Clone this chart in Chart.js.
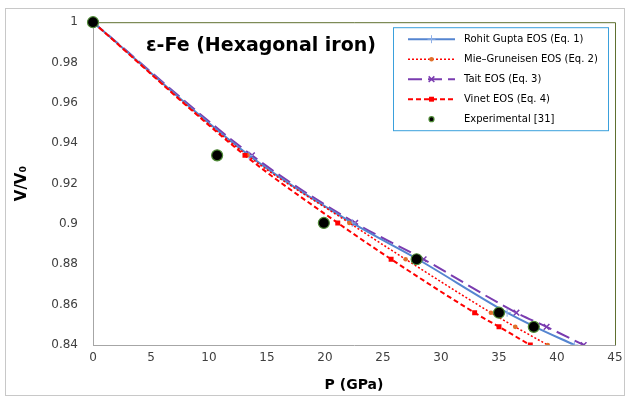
<!DOCTYPE html>
<html>
<head>
<meta charset="utf-8">
<script src="https://cdn.jsdelivr.net/npm/chart.js@4"></script>
<style>
html,body{margin:0;padding:0;background:#fff;}
#wrap{width:630px;height:399px;}
</style>
</head>
<body>
<div id="wrap"><canvas id="chartEos" width="630" height="399"></canvas></div>
<script>
// ---- data ----
const vLevels = [1, 0.934, 0.9005, 0.8825, 0.856, 0.849, 0.84];
const pRohit  = [0, 13.45, 22.35, 28.0, 35.7, 38.1, 41.5];
const pMie    = [0, 13.3, 22.1, 26.95, 34.3, 36.4, 39.2];
const pTait   = [0, 13.7, 22.6, 28.5, 36.5, 39.1, 42.3];
const pVinet  = [0, 13.1, 21.1, 25.7, 32.9, 35.0, 37.7];

const pExp = [0, 10.7, 19.9, 27.9, 35.0, 38.0];
const vExp = [1, 0.934, 0.9005, 0.8825, 0.856, 0.849];

const xTicks = [0, 5, 10, 15, 20, 25, 30, 35, 40, 45];
const yTicks = [0.84, 0.86, 0.88, 0.9, 0.92, 0.94, 0.96, 0.98, 1];
const yTickLabels = ["0.84", "0.86", "0.88", "0.9", "0.92", "0.94", "0.96", "0.98", "1"];

const seriesNames = [
  "Rohit Gupta EOS (Eq. 1)",
  "Mie\u2013Gruneisen EOS (Eq. 2)",
  "Tait EOS (Eq. 3)",
  "Vinet EOS (Eq. 4)",
  "Experimental [31]"
];

function pts(px, vy) {
  return px.map((p, i) => ({x: p, y: vy[i]}));
}

const FONT = "'DejaVu Sans', Verdana, sans-serif";

// legend drawn inside plot, line + marker like the original
const boxLegend = {
  id: "boxLegend",
  afterDraw(chart) {
    const ctx = chart.ctx;
    const ca = chart.chartArea;
    const x0 = ca.right - 222, y0 = ca.top + 5, w = 215, h = 103;
    ctx.save();
    ctx.fillStyle = "#fff";
    ctx.fillRect(x0, y0, w, h);
    ctx.strokeStyle = "#3aa0dc";
    ctx.lineWidth = 1;
    ctx.strokeRect(x0 + 0.5, y0 + 0.5, w, h);
    ctx.font = "10px " + FONT;
    ctx.textBaseline = "middle";
    chart.data.datasets.forEach((ds, row) => {
      const yy = y0 + 12 + row * 20;
      const lx1 = x0 + 15, lx2 = x0 + 62;
      if (ds.showLine !== false) {
        ctx.beginPath();
        ctx.setLineDash(ds.borderDash || []);
        ctx.strokeStyle = ds.borderColor;
        ctx.lineWidth = ds.borderWidth;
        ctx.moveTo(lx1, yy);
        ctx.lineTo(lx2, yy);
        ctx.stroke();
        ctx.setLineDash([]);
      }
      ctx.fillStyle = ds.pointBackgroundColor;
      ctx.strokeStyle = ds.pointBorderColor;
      ctx.lineWidth = ds.pointBorderWidth;
      Chart.helpers.drawPoint(ctx, {
        pointStyle: ds.pointStyle,
        radius: row === 4 ? 2.5 : ds.pointRadius,
        borderWidth: ds.pointBorderWidth
      }, (lx1 + lx2) / 2, yy);
      ctx.fillStyle = "#000";
      ctx.fillText(seriesNames[row], x0 + 71, yy);
    });
    ctx.restore();
  }
};

// frame, top/right border and the in-plot title
const frame = {
  id: "frame",
  beforeDraw(chart) {
    const ctx = chart.ctx;
    ctx.save();
    ctx.strokeStyle = "#c8c8c8";
    ctx.lineWidth = 1;
    ctx.strokeRect(5.5, 8.5, 619, 387);
    ctx.restore();
  },
  beforeDatasetsDraw(chart) {
    const ctx = chart.ctx;
    const ca = chart.chartArea;
    ctx.save();
    ctx.strokeStyle = "#5f7030";
    ctx.lineWidth = 1;
    ctx.beginPath();
    ctx.moveTo(ca.left, ca.top + 0.5);
    ctx.lineTo(ca.right + 0.5, ca.top + 0.5);
    ctx.lineTo(ca.right + 0.5, ca.bottom);
    ctx.stroke();
    ctx.fillStyle = "#000";
    ctx.font = "bold 19px " + FONT;
    ctx.textBaseline = "middle";
    ctx.fillText("\u03b5-Fe (Hexagonal iron)", ca.left + 53, ca.top + 24);
    ctx.restore();
  }
};

new Chart(document.getElementById("chartEos"), {
  type: "scatter",
  data: {
    datasets: [
      {
        label: seriesNames[0],
        data: pts(pRohit, vLevels),
        showLine: true,
        borderColor: "#5585d0",
        borderWidth: 2,
        pointStyle: "cross",
        pointRadius: 4,
        pointBorderWidth: 1,
        pointBorderColor: "#8fb0e8",
        pointBackgroundColor: "#8fb0e8",
        cubicInterpolationMode: "monotone",
        order: 3
      },
      {
        label: seriesNames[1],
        data: pts(pMie, vLevels),
        showLine: true,
        borderColor: "#ff0000",
        borderWidth: 1.5,
        borderDash: [2, 2],
        pointStyle: "circle",
        pointRadius: 2.3,
        pointBorderWidth: 0,
        pointBackgroundColor: "#e0702a",
        pointBorderColor: "#e0702a",
        cubicInterpolationMode: "monotone",
        order: 2
      },
      {
        label: seriesNames[2],
        data: pts(pTait, vLevels),
        showLine: true,
        borderColor: "#7a3cb0",
        borderWidth: 2,
        borderDash: [14, 6],
        pointStyle: "crossRot",
        pointRadius: 4,
        pointBorderWidth: 1.5,
        pointBorderColor: "#7a3cb0",
        pointBackgroundColor: "#7a3cb0",
        cubicInterpolationMode: "monotone",
        order: 4
      },
      {
        label: seriesNames[3],
        data: pts(pVinet, vLevels),
        showLine: true,
        borderColor: "#ff0000",
        borderWidth: 2,
        borderDash: [5, 3],
        pointStyle: "rect",
        pointRadius: 3.5,
        pointBorderWidth: 0,
        pointBackgroundColor: "#ff0000",
        pointBorderColor: "#ff0000",
        cubicInterpolationMode: "monotone",
        order: 1
      },
      {
        label: seriesNames[4],
        data: pts(pExp, vExp),
        showLine: false,
        clip: false,
        borderColor: "#4e8a36",
        pointStyle: "circle",
        pointRadius: 5.5,
        pointBorderWidth: 1.2,
        pointBackgroundColor: "#000",
        pointBorderColor: "#4e8a36",
        order: 0
      }
    ]
  },
  options: {
    responsive: false,
    animation: false,
    layout: {padding: {left: 9, top: 17, right: 15, bottom: 0}},
    plugins: {
      legend: {display: false},
      tooltip: {enabled: false}
    },
    scales: {
      x: {
        type: "linear",
        min: 0,
        max: 45,
        afterBuildTicks: (axis) => { axis.ticks = xTicks.map(v => ({value: v})); },
        afterFit: (axis) => { axis.height = 54; },
        grid: {display: false, drawTicks: false},
        border: {color: "#a6a6a6", width: 1},
        ticks: {color: "#404040", font: {family: FONT, size: 12}, padding: 6, maxRotation: 0},
        title: {display: true, text: "P (GPa)", color: "#000", font: {family: FONT, size: 14, weight: "bold"}, padding: {top: 3, bottom: 5}}
      },
      y: {
        type: "linear",
        min: 0.84,
        max: 1,
        afterBuildTicks: (axis) => { axis.ticks = yTicks.map(v => ({value: v})); },
        afterFit: (axis) => { axis.width = 84; },
        grid: {display: false, drawTicks: false},
        border: {color: "#a6a6a6", width: 1},
        ticks: {
          color: "#404040",
          font: {family: FONT, size: 12},
          padding: 15,
          callback: (v, i) => yTickLabels[i]
        },
        title: {display: true, text: "V/V\u2080", color: "#000", font: {family: FONT, size: 15, weight: "bold"}, padding: {bottom: 4}}
      }
    }
  },
  plugins: [frame, boxLegend]
});
</script>
</body>
</html>
